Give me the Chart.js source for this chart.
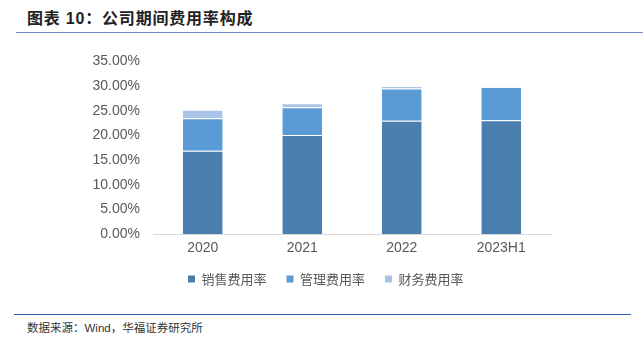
<!DOCTYPE html>
<html>
<head>
<meta charset="utf-8">
<script src="https://cdn.jsdelivr.net/npm/chart.js@4/dist/chart.umd.min.js"></script>
<style>
  body { margin: 0; width: 643px; height: 344px; background: #fff; position: relative; overflow: hidden; font-family: "Liberation Sans", "Noto Sans CJK SC", sans-serif; }
  #titulo { position: absolute; left: 27px; top: 5px; font-size: 16px; font-weight: bold; color: #222; letter-spacing: 0.8px; font-family: "Liberation Sans", "Noto Sans CJK SC", sans-serif; }
  #linhaTopo { position: absolute; left: 16px; right: 0; top: 32px; height: 1px; background: #6a8cc4; }
  #grafico { position: absolute; left: 0; top: 40px; }
  #linhaBase { position: absolute; left: 14px; right: 12px; top: 314px; height: 1px; background: #2f5da8; }
  #fonte { position: absolute; left: 27px; top: 319px; font-size: 11.5px; color: #333; font-family: "Liberation Sans", "Noto Sans CJK SC", sans-serif; }
</style>
</head>
<body>
<div id="titulo">图表 10：公司期间费用率构成</div>
<div id="linhaTopo"></div>
<canvas id="grafico" width="643" height="270"></canvas>
<div id="linhaBase"></div>
<div id="fonte">数据来源：Wind，华福证券研究所</div>
<script>
// Dados (%)
const periodos = ["2020", "2021", "2022", "2023H1"];
const vendas = [16.9, 20.1, 23.0, 23.1];
const gestao = [6.6, 5.6, 6.5, 6.7];
const financeiro = [1.7, 0.8, 0.5, 0.1];
const ticksY = [0, 5, 10, 15, 20, 25, 30, 35];

const cinza = "#595959";
const fonteNum = { family: "Liberation Sans", size: 14 };

function serie(label, data, cor) {
	return {
		label: label,
		data: data,
		backgroundColor: cor,
		borderColor: "rgba(255,255,255,0.6)",
		borderWidth: { top: 1, bottom: 0, left: 0, right: 0 },
		borderSkipped: false,
	};
}

// legenda fica centrada na página, não só na área do gráfico
const posLegenda = {
	id: "posLegenda",
	beforeDraw(chart) {
		const leg = chart.legend;
		const pad = leg.options.labels.padding;
		const h = leg.height;
		leg.left = 188 - pad;
		leg.right = chart.width;
		leg.top = 234 - h / 2;
		leg.bottom = leg.top + h;
	},
};

let barras = new Chart(document.getElementById("grafico"), {
	type: "bar",
	data: {
		labels: periodos,
		datasets: [
			serie("销售费用率", vendas, "#4a7eaf"),
			serie("管理费用率", gestao, "#5b9bd5"),
			serie("财务费用率", financeiro, "#a9c4e6"),
		],
	},
	options: {
		responsive: false,
		animation: false,
		layout: { padding: { top: 19, right: 92, bottom: 4, left: 0 } },
		datasets: { bar: { categoryPercentage: 1, barPercentage: 0.4 } },
		scales: {
			x: {
				stacked: true,
				grid: { display: false, drawTicks: false },
				border: { display: true, color: "#d9d9d9", width: 1 },
				ticks: { color: cinza, font: fonteNum, padding: 6 },
			},
			y: {
				stacked: true,
				min: ticksY[0],
				max: ticksY[ticksY.length - 1],
				afterBuildTicks: (escala) => {
					escala.ticks = ticksY.map((v) => ({ value: v }));
				},
				afterFit: (escala) => {
					escala.width = 153;
				},
				grid: { display: false, drawTicks: false },
				border: { display: false },
				ticks: {
					color: cinza,
					font: fonteNum,
					padding: 13,
					callback: (v) => v.toFixed(2) + "%",
				},
			},
		},
		plugins: {
			legend: {
				position: "bottom",
				align: "start",
				labels: {
					color: cinza,
					font: { family: "Noto Sans CJK SC", size: 13 },
					boxWidth: 7,
					boxHeight: 7,
					padding: 20,
					generateLabels: (chart) =>
						chart.data.datasets.map((ds, i) => ({
							text: ds.label,
							fillStyle: ds.backgroundColor,
							strokeStyle: ds.backgroundColor,
							lineWidth: 0,
							fontColor: cinza,
							datasetIndex: i,
						})),
				},
			},
			tooltip: { enabled: false },
		},
	},
	plugins: [posLegenda],
});
</script>
</body>
</html>
